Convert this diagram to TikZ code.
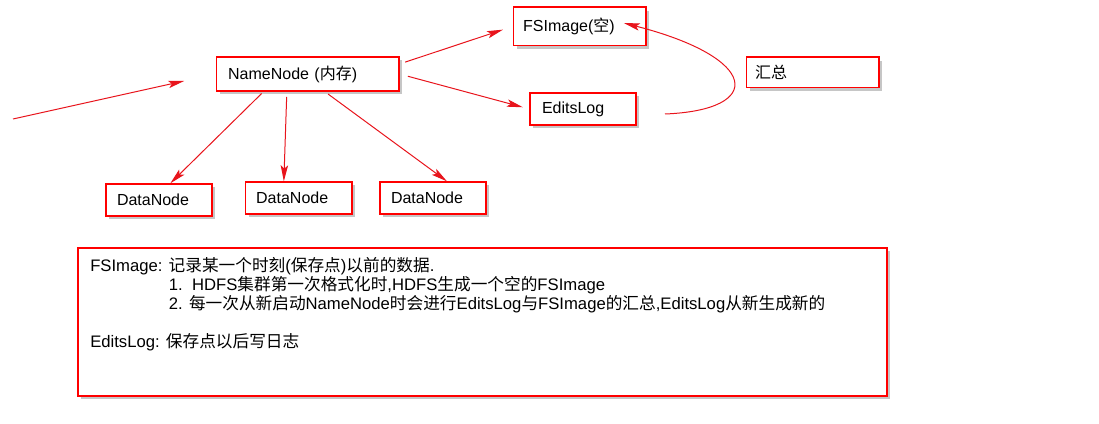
\documentclass[tikz,border=0pt]{standalone}
\usepackage{fontspec}
\setmainfont{Liberation Sans}
\newfontfamily\cjk{Noto Sans CJK SC}
\usetikzlibrary{positioning, arrows.meta, shadows}
\usepackage{xcolor}
\definecolor{border}{HTML}{FF0000}
\definecolor{wire}{HTML}{E8141C}
\newcommand{\zh}[1]{{\cjk #1}}

\begin{document}
\begin{tikzpicture}[x=0.75pt, y=-0.75pt,
    block/.style={draw=border, line width=1pt, fill=white, align=left, inner ysep=0pt, font=\fontsize{12}{14}\selectfont, drop shadow={shadow xshift=2.6pt, shadow yshift=-2.6pt, opacity=0.45}},
    link/.style={draw=wire, line width=0.75pt, -{Stealth[length=12pt, width=5.5pt, inset=2.5pt]}},
]
\useasboundingbox (0,0) rectangle (1099,424);

% Top: NameNode, FSImage, EditsLog
\node[block, text width=119pt, inner xsep=9pt, minimum height=25.5pt] (nn) at (307.5,74) {NameNode (\zh{内存})};
\node[block, text width=84.5pt, inner xsep=7.5pt, minimum height=29pt] (fs) at (579.5,26.5) {FSImage(\zh{空})};
\node[block, text width=61.5pt, inner xsep=9pt, minimum height=24pt] (el) at (583,109) {EditsLog};
\node[block, text width=86pt, inner xsep=6.75pt, minimum height=23pt] (sum) at (812.5,72.5) {\zh{汇总}};

% Row of DataNodes
\node[block, text width=63pt, inner xsep=8.25pt, minimum height=24pt] (dn1) at (159,200) {DataNode};
\node[block, text width=63.5pt, inner xsep=8.25pt, minimum height=24pt] (dn2) at (298.5,198) {DataNode};
\node[block, text width=63pt, inner xsep=8.25pt, minimum height=24pt] (dn3) at (433,198) {DataNode};

% Notes
\node[block, minimum width=606.75pt, minimum height=111pt] (note) at (482.5,322) {};
\node[anchor=north west, inner sep=0pt, align=left, font=\fontsize{12.5}{14.25}\selectfont] (notetext) at (90,257) {%
FSImage: \zh{记录某一个时刻}(\zh{保存点})\zh{以前的数据}.\\
\hspace*{59pt}1.\ \ HDFS\zh{集群第一次格式化时},HDFS\zh{生成一个空的}FSImage\\
\hspace*{59pt}2. \zh{每一次从新启动}NameNode\zh{时会进行}EditsLog\zh{与}FSImage\zh{的汇总},EditsLog\zh{从新生成新的}\\[14.25pt]
EditsLog: \zh{保存点以后写日志}};

% Arrows
\coordinate (client) at (13,119);
\draw[link, shorten >=24pt] (client) -- (nn.west);
\draw[link, shorten <=4.5pt, shorten >=7.5pt] ([yshift=7.5pt]nn.east) -- (fs.west);
\draw[link, shorten <=6.5pt, shorten >=5pt] (nn.east) -- (el.west);
\draw[link, shorten <=2pt] ([xshift=-33pt]nn.south) -- ([xshift=8.5pt]dn1.north);
\draw[link, shorten <=4pt] ([xshift=-15.5pt]nn.south) -- ([xshift=-11pt]dn2.north);
\draw[link, shorten <=3pt] ([xshift=13pt]nn.south) -- ([xshift=10.5pt]dn3.north);

% Merge EditsLog into FSImage
\coordinate (merge) at (665,114);
\draw[link] (merge) .. controls (765,110) and (760,58) .. ([xshift=-17pt,yshift=2.6pt]fs.east);

\end{tikzpicture}
\end{document}
